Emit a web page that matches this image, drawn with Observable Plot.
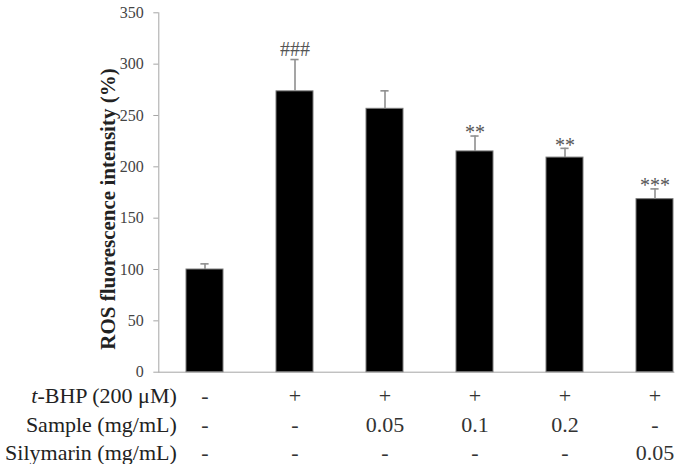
<!DOCTYPE html>
<html>
<head>
<meta charset="utf-8">
<script src="https://cdn.jsdelivr.net/npm/d3@7"></script>
<script src="https://cdn.jsdelivr.net/npm/@observablehq/plot@0.6"></script>
<style>
  html, body { margin: 0; padding: 0; background: #fff; }
  #chart svg { display: block; }
</style>
</head>
<body>
<div id="chart"></div>
<script>
// Treatment groups, in plotting order
const groups = ["control", "tbhp", "sample005", "sample01", "sample02", "silymarin"];
// Mean ROS fluorescence intensity (% of control) and error (SD)
const means = [100, 273.5, 256.5, 215, 209, 168.5];
const errors = [5.5, 31, 17.5, 15, 9, 10];
// Significance markers
const signif = ["", "###", "", "**", "**", "***"];
// Treatment table rows
const tbhpRow = ["-", "+", "+", "+", "+", "+"];
const sampleRow = ["-", "-", "0.05", "0.1", "0.2", "-"];
const silymarinRow = ["-", "-", "-", "-", "-", "0.05"];
const rowLabels = ["t-BHP (200 μM)", "Sample (mg/mL)", "Silymarin (mg/mL)"];
const yTicks = [0, 50, 100, 150, 200, 250, 300, 350];
const yLabel = "ROS fluorescence intensity (%)";

const data = groups.map((g, i) => ({
  group: g,
  mean: means[i],
  top: means[i] + errors[i],
  mark: signif[i],
  tbhp: tbhpRow[i],
  sample: sampleRow[i],
  silymarin: silymarinRow[i]
}));

const serif = "Liberation Serif";
const rowKeys = ["tbhp", "sample", "silymarin"];
const rowDy = [24, 52.5, 80.5];

const hashes = data.filter(d => d.mark.startsWith("#"));
const stars = data.filter(d => d.mark.startsWith("*"));

const chart = Plot.plot({
  width: 685,
  height: 464,
  marginTop: 12.3,
  marginBottom: 92.3,
  marginLeft: 158.3,
  marginRight: 11.6,
  style: { fontFamily: serif, background: "#fff", overflow: "visible" },
  x: { domain: groups, range: [184.6, 673.4], paddingInner: 0.593, paddingOuter: 0, axis: null },
  y: { domain: [0, 350], axis: null },
  marks: [
    Plot.axisY({ ticks: yTicks, tickSize: 5, tickPadding: 10, stroke: "#a6a6a6", fill: "#444", fontSize: 16, fontFamily: serif, label: null }),
    Plot.frame({ anchor: "left", stroke: "#a6a6a6" }),
    Plot.frame({ anchor: "bottom", stroke: "#a6a6a6" }),
    Plot.barY(data, { x: "group", y: "mean", fill: "#000", stroke: "#7a7a7a", strokeWidth: 1 }),
    Plot.ruleX(data, { x: "group", y1: "mean", y2: "top", stroke: "#8f8f8f", strokeWidth: 1.6 }),
    Plot.tickY(data, { x: "group", y: "top", inset: 14.4, stroke: "#8f8f8f", strokeWidth: 1.6 }),
    Plot.text(hashes, { x: "group", y: "top", text: "mark", dy: -10, lineAnchor: "middle", fontSize: 20, fontFamily: serif, fill: "#555" }),
    Plot.text(stars, { x: "group", y: "top", text: "mark", dy: -3, lineAnchor: "middle", fontSize: 20, fontFamily: serif, fill: "#555" }),
    Plot.text([yLabel], { frameAnchor: "left", textAnchor: "middle", rotate: -90, dx: -51, dy: 16.5, fontSize: 21, fontWeight: "bold", fontFamily: serif, fill: "#222" }),
    ...rowKeys.map((k, r) =>
      Plot.text(data, { x: "group", text: k, frameAnchor: "bottom", dy: rowDy[r], lineAnchor: "middle", fontSize: 22, fontFamily: serif, fill: "#333" })
    ),
    ...rowLabels.map((label, r) =>
      Plot.text([label], { frameAnchor: "bottom-left", dx: 18, dy: rowDy[r], textAnchor: "end", lineAnchor: "middle", fontSize: 22, fontFamily: serif, fill: "#222" })
    )
  ]
});

// Italicise the "t" of t-BHP
d3.select(chart).selectAll("text")
  .filter(function () { return this.textContent === rowLabels[0]; })
  .each(function () {
    const t = d3.select(this);
    t.text(null);
    t.append("tspan").attr("font-style", "italic").text(rowLabels[0].slice(0, 1));
    t.append("tspan").text(rowLabels[0].slice(1));
  });

document.getElementById("chart").appendChild(chart);
</script>
</body>
</html>
